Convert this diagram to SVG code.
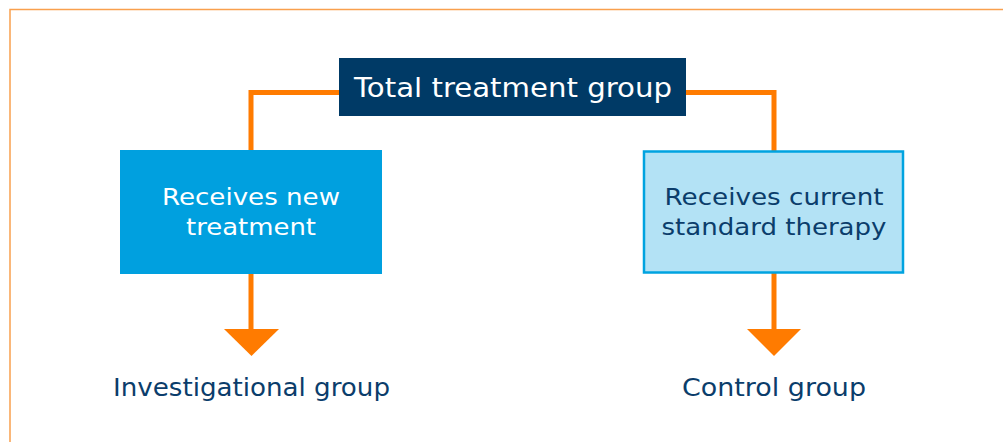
<svg xmlns="http://www.w3.org/2000/svg" width="1003" height="442" viewBox="0 0 1003 442">
<style>
.t{font-family:"DejaVu Sans","Noto Sans",sans-serif;text-anchor:middle}
.c{fill:none;stroke:#FF7B00;stroke-width:5}
.h{fill:#FF7B00}
</style>
<rect width="1003" height="442" fill="#fff"/>
<rect x="10" y="9.5" width="1010" height="450" fill="none" stroke="#F9A04E" stroke-width="1.5"/>
<g id="connectors">
<polyline class="c" points="339,92.5 251,92.5 251,151"/>
<polyline class="c" points="686,92.5 774,92.5 774,151"/>
<line class="c" x1="251" y1="273" x2="251" y2="331"/>
<polygon class="h" points="224,329 279,329 251.5,356"/>
<line class="c" x1="774" y1="273" x2="774" y2="331"/>
<polygon class="h" points="747,329 801,329 774,356"/>
</g>
<g id="total">
<rect x="339" y="58" width="347" height="58" fill="#003A66"/>
<text class="t" x="513" y="97" font-size="26" fill="#fff" textLength="318" lengthAdjust="spacingAndGlyphs">Total treatment group</text>
</g>
<g id="new">
<rect x="120" y="150" width="262" height="124" fill="#00A0DF"/>
<text class="t" x="251" y="205" font-size="23" fill="#fff" textLength="178" lengthAdjust="spacingAndGlyphs">Receives new</text>
<text class="t" x="251" y="235" font-size="23" fill="#fff" textLength="130" lengthAdjust="spacingAndGlyphs">treatment</text>
</g>
<g id="standard">
<rect x="644" y="151.5" width="259" height="121" fill="#B3E2F5" stroke="#00A3E0" stroke-width="2.5"/>
<text class="t" x="774" y="205" font-size="23" fill="#0B3D6B" textLength="219" lengthAdjust="spacingAndGlyphs">Receives current</text>
<text class="t" x="774" y="235" font-size="23" fill="#0B3D6B" textLength="225" lengthAdjust="spacingAndGlyphs">standard therapy</text>
</g>
<g id="investigational">
<text class="t" x="251.5" y="396" font-size="24" fill="#0B3D6B" textLength="277" lengthAdjust="spacingAndGlyphs">Investigational group</text>
</g>
<g id="control">
<text class="t" x="774" y="396" font-size="24" fill="#0B3D6B" textLength="184" lengthAdjust="spacingAndGlyphs">Control group</text>
</g>
</svg>
